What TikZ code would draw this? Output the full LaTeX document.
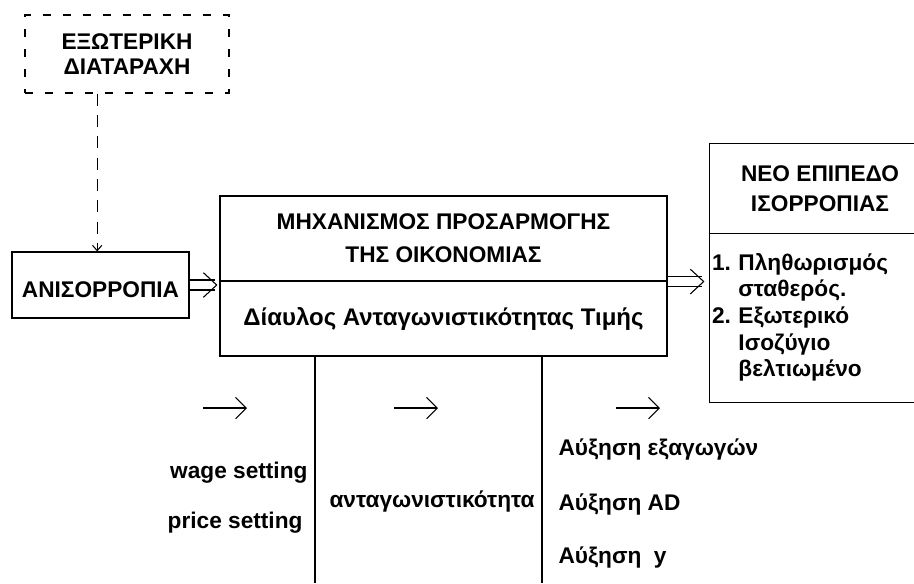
\documentclass[tikz,border=0pt]{standalone}
\usepackage{fontspec}
\setmainfont{Liberation Sans}
\usetikzlibrary{arrows.meta}

\begin{document}
\begin{tikzpicture}[x=0.75pt, y=-0.75pt, line width=0.8pt,
  font=\bfseries\fontsize{17}{20}\selectfont,
  box/.style={draw, rectangle, align=center, inner sep=2pt},
  lbl/.style={inner sep=0pt},
  dbl/.style={double, double distance=6.7pt},
  tip/.style={-{Straight Barb[length=10pt,width=18.5pt]}},
  arr/.style={-{Straight Barb[length=8pt,width=16pt]}}]
\useasboundingbox (0,0) rectangle (914,583);
\clip (0,0) rectangle (914,583);

\node[box, dash pattern=on 6pt off 9pt, minimum width=153pt, minimum height=58.5pt] (s) at (127,54) {ΕΞΩΤΕΡΙΚΗ\\[-1.5pt]ΔΙΑΤΑΡΑΧΗ};
\node[box, minimum width=132.75pt, minimum height=49.5pt] (a) at (100.5,285) {\raisebox{-3.5pt}[12pt][0pt]{ΑΝΙΣΟΡΡΟΠΙΑ}};

\node[box, minimum width=335.25pt, minimum height=63.75pt] (m1) at (443.5,238.5) {ΜΗΧΑΝΙΣΜΟΣ ΠΡΟΣΑΡΜΟΓΗΣ\\[4.5pt]ΤΗΣ ΟΙΚΟΝΟΜΙΑΣ};
\node[box, minimum width=335.25pt, minimum height=56.25pt, font=\bfseries\fontsize{18}{20}\selectfont] (m2) at (443.5,318.5) {Δίαυλος Ανταγωνιστικότητας Τιμής};

\node[box, draw=none, minimum width=165pt, minimum height=66.75pt] (n1) at (820,188.5) {ΝΕΟ ΕΠΙΠΕΔΟ\\[2.5pt]ΙΣΟΡΡΟΠΙΑΣ};
\node[box, draw=none, minimum width=165pt, minimum height=126.75pt, align=left, text width=162pt, inner xsep=1.5pt] (n2) at (820,317.5) {1.\ Πληθωρισμός\\\hphantom{1.\ }σταθερός.\\2.\ Εξωτερικό\\\hphantom{2.\ }Ισοζύγιο\\\hphantom{2.\ }βελτιωμένο};
\draw (n1.north east) -- (n1.north west) -- (n2.south west) -- (n2.south east);
\draw (n1.south west) -- (n1.south east);

\draw[dash pattern=on 9pt off 7pt, -{Straight Barb[length=4pt,width=7pt]}] ([xshift=-2.5pt]a.north |- s.south) -- ([xshift=-2.5pt]a.north);

\coordinate (d1) at ([xshift=-1.5pt]a.east -| m2.west);
\coordinate (d2) at ([xshift=-3.75pt]m1.south east -| n2.west);
\draw[dbl, shorten >=1.5pt] (a.east) -- (d1);
\draw[tip] ([xshift=-1pt]d1) -- (d1);
\draw[dbl, shorten >=1.5pt] (m1.south east) -- (d2);
\draw[tip] ([xshift=-1pt]d2) -- (d2);

\coordinate (e1) at (315,583);
\coordinate (e2) at (542,583);
\draw (m2.south -| e1) -- (e1);
\draw (m2.south -| e2) -- (e2);

\foreach \x/\n in {203/1,394/2,616/3} {
  \coordinate (p\n) at (\x,408);
  \coordinate (q\n) at (\x+44,408);
  \draw[arr] (p\n) -- (q\n);
}

\node[lbl, anchor=base east] (w) at (308,478) {wage setting};
\node[lbl, anchor=base east] (pr) at (303,528) {price setting};
\node[lbl, anchor=base west] (c) at (329,507) {ανταγωνιστικότητα};
\node[lbl, anchor=base west] (x1) at (558,455) {Αύξηση εξαγωγών};
\node[lbl, anchor=base west] (x2) at (558,510) {Αύξηση AD};
\node[lbl, anchor=base west] (x3) at (558,563) {Αύξηση~~y};
\end{tikzpicture}
\end{document}
